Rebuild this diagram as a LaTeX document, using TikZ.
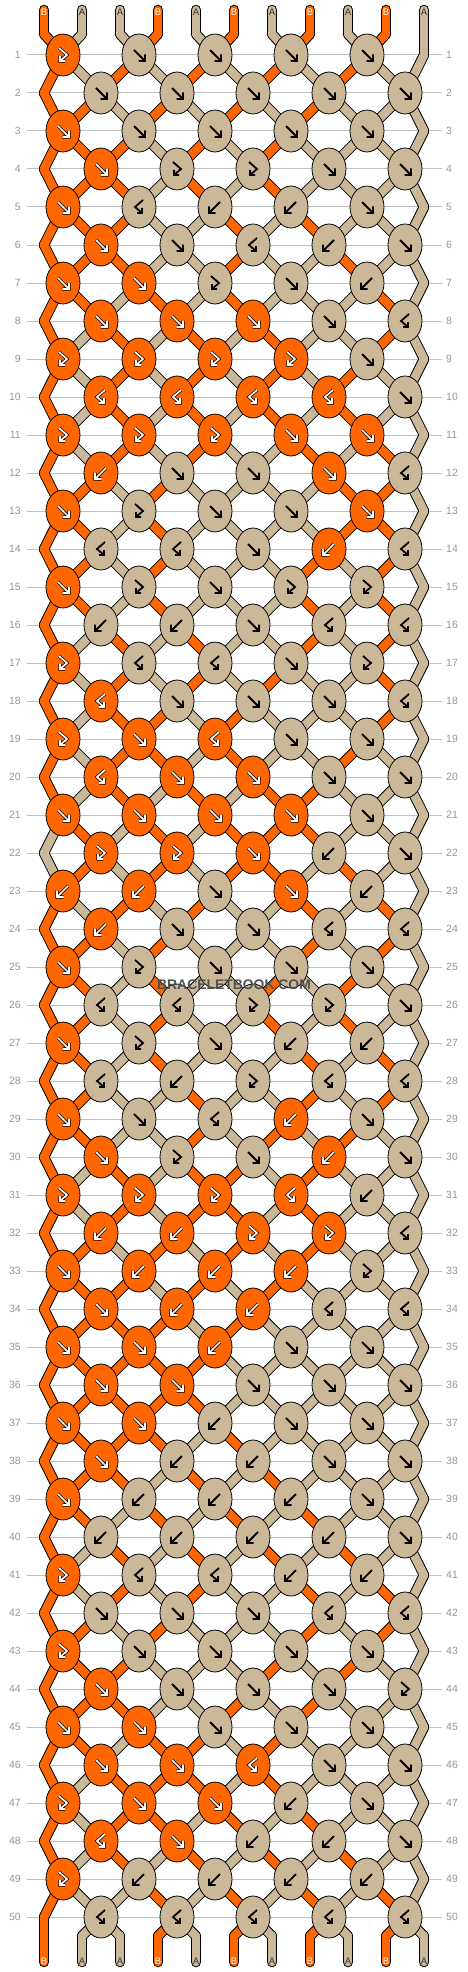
\documentclass[tikz,border=0pt]{standalone}
\usepackage{fontspec}
\setmainfont{Liberation Sans}
\usetikzlibrary{shapes.geometric}
\definecolor{colB}{RGB}{255,102,0}
\definecolor{colA}{RGB}{203,184,152}
\definecolor{rowgray}{RGB}{192,192,192}
\definecolor{numgray}{RGB}{150,150,150}
\definecolor{markgray}{RGB}{80,80,80}
\pgfdeclarelayer{strings}
\pgfsetlayers{strings,main}

\tikzset{
  knot/.style={ellipse,draw=black,line width=0.8pt,minimum width=34pt,minimum height=42pt,inner sep=0pt},
  knotB/.style={fill=colB},
  knotA/.style={fill=colA},
  glyphB/.style={draw=black,line width=0.7pt,double=white,double distance=1.7pt},
  glyphA/.style={draw=black,line width=1.8pt},
  strandline/.style={line width=10.5pt,black,line cap=round},
  strandB/.style={line width=8.5pt,colB,line cap=round},
  strandA/.style={line width=8.5pt,colA,line cap=round},
  rownum/.style={numgray,inner sep=0pt,font=\fontsize{10.5}{12}\selectfont},
  labelB/.style={white,inner sep=0pt,font=\fontsize{9.5}{10}\selectfont},
  labelA/.style={black!80,inner sep=0pt,font=\fontsize{9.5}{10}\selectfont},
}
% knot glyphs: F forward, B backward, f forward-backward, b backward-forward
\newcommand\glyphF{(-5,-5) -- (6,6) (6,-0.5) -- (6,6) -- (-0.5,6)}
\newcommand\glyphB{(5,-5) -- (-6,6) (-6,-0.5) -- (-6,6) -- (0.5,6)}
\newcommand\glyphf{(-4,-7) -- (4,0) -- (-3,6) (-3,1) -- (-3,6) -- (2,6)}
\newcommand\glyphb{(4,-7) -- (-4,0) -- (3,6) (3,1) -- (3,6) -- (-2,6)}

\begin{document}
\begin{tikzpicture}[x=1pt,y=-1pt]
\useasboundingbox (0,0) rectangle (468,1972);

    % row lines and numbers
	\foreach \r in {1,...,50} {
		\pgfmathsetmacro\y{55+38*(\r-1)}
		\begin{pgfonlayer}{strings}
		\draw[rowgray,line width=1pt] (27,\y) -- (442,\y);
		\end{pgfonlayer}
		\node[rownum,anchor=east] (numl\r) at (21,\y) {\r};
		\node[rownum,anchor=west] (numr\r) at (446,\y) {\r};
	}

    % string ends at the top
	\foreach \c [count=\p] in {B,A,A,B,A,B,A,B,A,B,A} {
		\expandafter\xdef\csname s\p\endcsname{\c}
		\pgfmathsetmacro\x{44+38*(\p-1)}
		\coordinate (u-\p) at (\x,10);
		\coordinate (p-0-\p) at (\x,34);
		\coordinate (p-51-\p) at (\x,1936);
		\coordinate (d-\p) at (\x,1962);
		\node[label\c] (top\p) at (\x,12.5) {\c};
	}

    % knots, row by row
	\foreach \code [count=\r] in {%
{f,F,F,F,F},{F,F,F,F,F},{F,F,F,F,F},{F,f,f,F,F},{F,b,B,B,F},%
{F,F,b,B,F},{F,F,f,F,B},{F,F,F,F,b},{f,f,f,f,F},{b,b,b,b,F},%
{f,f,f,F,F},{B,F,F,F,b},{F,f,F,F,F},{b,b,F,B,b},{F,f,F,f,f},%
{B,B,F,b,b},{f,b,b,F,f},{b,F,F,F,b},{f,F,b,F,F},{b,F,F,F,F},%
{F,F,F,F,F},{f,f,F,B,F},{B,B,F,F,B},{B,F,F,b,b},{F,f,F,F,F},%
{b,b,f,f,F},{F,f,F,B,B},{b,B,f,b,b},{F,F,b,B,F},{F,f,F,B,F},%
{f,f,f,b,B},{B,B,f,f,b},{F,B,B,B,f},{F,B,B,b,b},{F,F,B,F,F},%
{F,F,F,F,F},{F,F,B,F,F},{F,B,B,F,F},{F,B,B,B,F},{B,B,B,B,F},%
{f,b,b,B,B},{F,F,F,b,b},{f,F,F,F,F},{F,F,F,F,f},{F,F,F,F,F},%
{F,F,b,F,F},{f,F,F,B,F},{b,F,B,B,F},{f,B,B,B,B},{b,b,b,b,b}%
	} {
		\pgfmathsetmacro\y{55+38*(\r-1)}
		\pgfmathtruncatemacro\off{1-mod(\r,2)}
		\foreach \p in {1,...,11} {\expandafter\xdef\csname c-\r-\p\endcsname{\csname s\p\endcsname}}
		\ifnum\off=1 \coordinate (p-\r-1) at (44,\y); \else \coordinate (p-\r-11) at (424,\y); \fi
		\foreach \t [count=\k] in \code {
			\pgfmathtruncatemacro\lp{2*\k-1+\off}
			\pgfmathtruncatemacro\rp{\lp+1}
			\pgfmathsetmacro\x{44+38*(\lp-0.5)}
			\edef\lc{\csname s\lp\endcsname}
			\edef\rc{\csname s\rp\endcsname}
			\let\kc\rc
			\if F\t \let\kc\lc \expandafter\xdef\csname s\lp\endcsname{\rc}\expandafter\xdef\csname s\rp\endcsname{\lc}\fi
			\if B\t \expandafter\xdef\csname s\lp\endcsname{\rc}\expandafter\xdef\csname s\rp\endcsname{\lc}\fi
			\if f\t \let\kc\lc \fi
			\node[knot,knot\kc] (k-\r-\k) at (\x,\y) {};
			\coordinate (p-\r-\lp) at (k-\r-\k.center);
			\coordinate (p-\r-\rp) at (k-\r-\k.center);
			\expandafter\let\expandafter\g\csname glyph\t\endcsname
			\draw[glyph\kc,shift={(k-\r-\k.center)}] \g;
		}
	}

    % string ends at the bottom
	\foreach \p in {1,...,11} {
		\expandafter\xdef\csname c-51-\p\endcsname{\csname s\p\endcsname}
		\edef\c{\csname s\p\endcsname}
		\pgfmathsetmacro\x{44+38*(\p-1)}
		\node[label\c] (bot\p) at (\x,1961) {\c};
	}

    % strings between knots
	\begin{pgfonlayer}{strings}
	\foreach \p in {1,...,11} {
		\draw[strandline] (u-\p) -- (p-0-\p);
		\draw[strandline] (p-51-\p) -- (d-\p);
	}
	\foreach \r [evaluate=\r as \q using int(\r-1)] in {1,...,51}
		\foreach \p in {1,...,11} \draw[strandline] (p-\q-\p) -- (p-\r-\p);
	\foreach \p in {1,...,11} {
		\edef\c{\csname c-1-\p\endcsname}
		\draw[strand\c] (u-\p) -- (p-0-\p);
		\edef\c{\csname c-51-\p\endcsname}
		\draw[strand\c] (p-51-\p) -- (d-\p);
	}
	\foreach \r [evaluate=\r as \q using int(\r-1)] in {1,...,51}
		\foreach \p in {1,...,11} {
			\edef\c{\csname c-\r-\p\endcsname}
			\draw[strand\c] (p-\q-\p) -- (p-\r-\p);
		}
	\end{pgfonlayer}

    % watermark
	\node[text=markgray,font=\bfseries\fontsize{13.9}{14}\selectfont] (mark) at (234,985) {BRACELETBOOK.COM};
\end{tikzpicture}
\end{document}
